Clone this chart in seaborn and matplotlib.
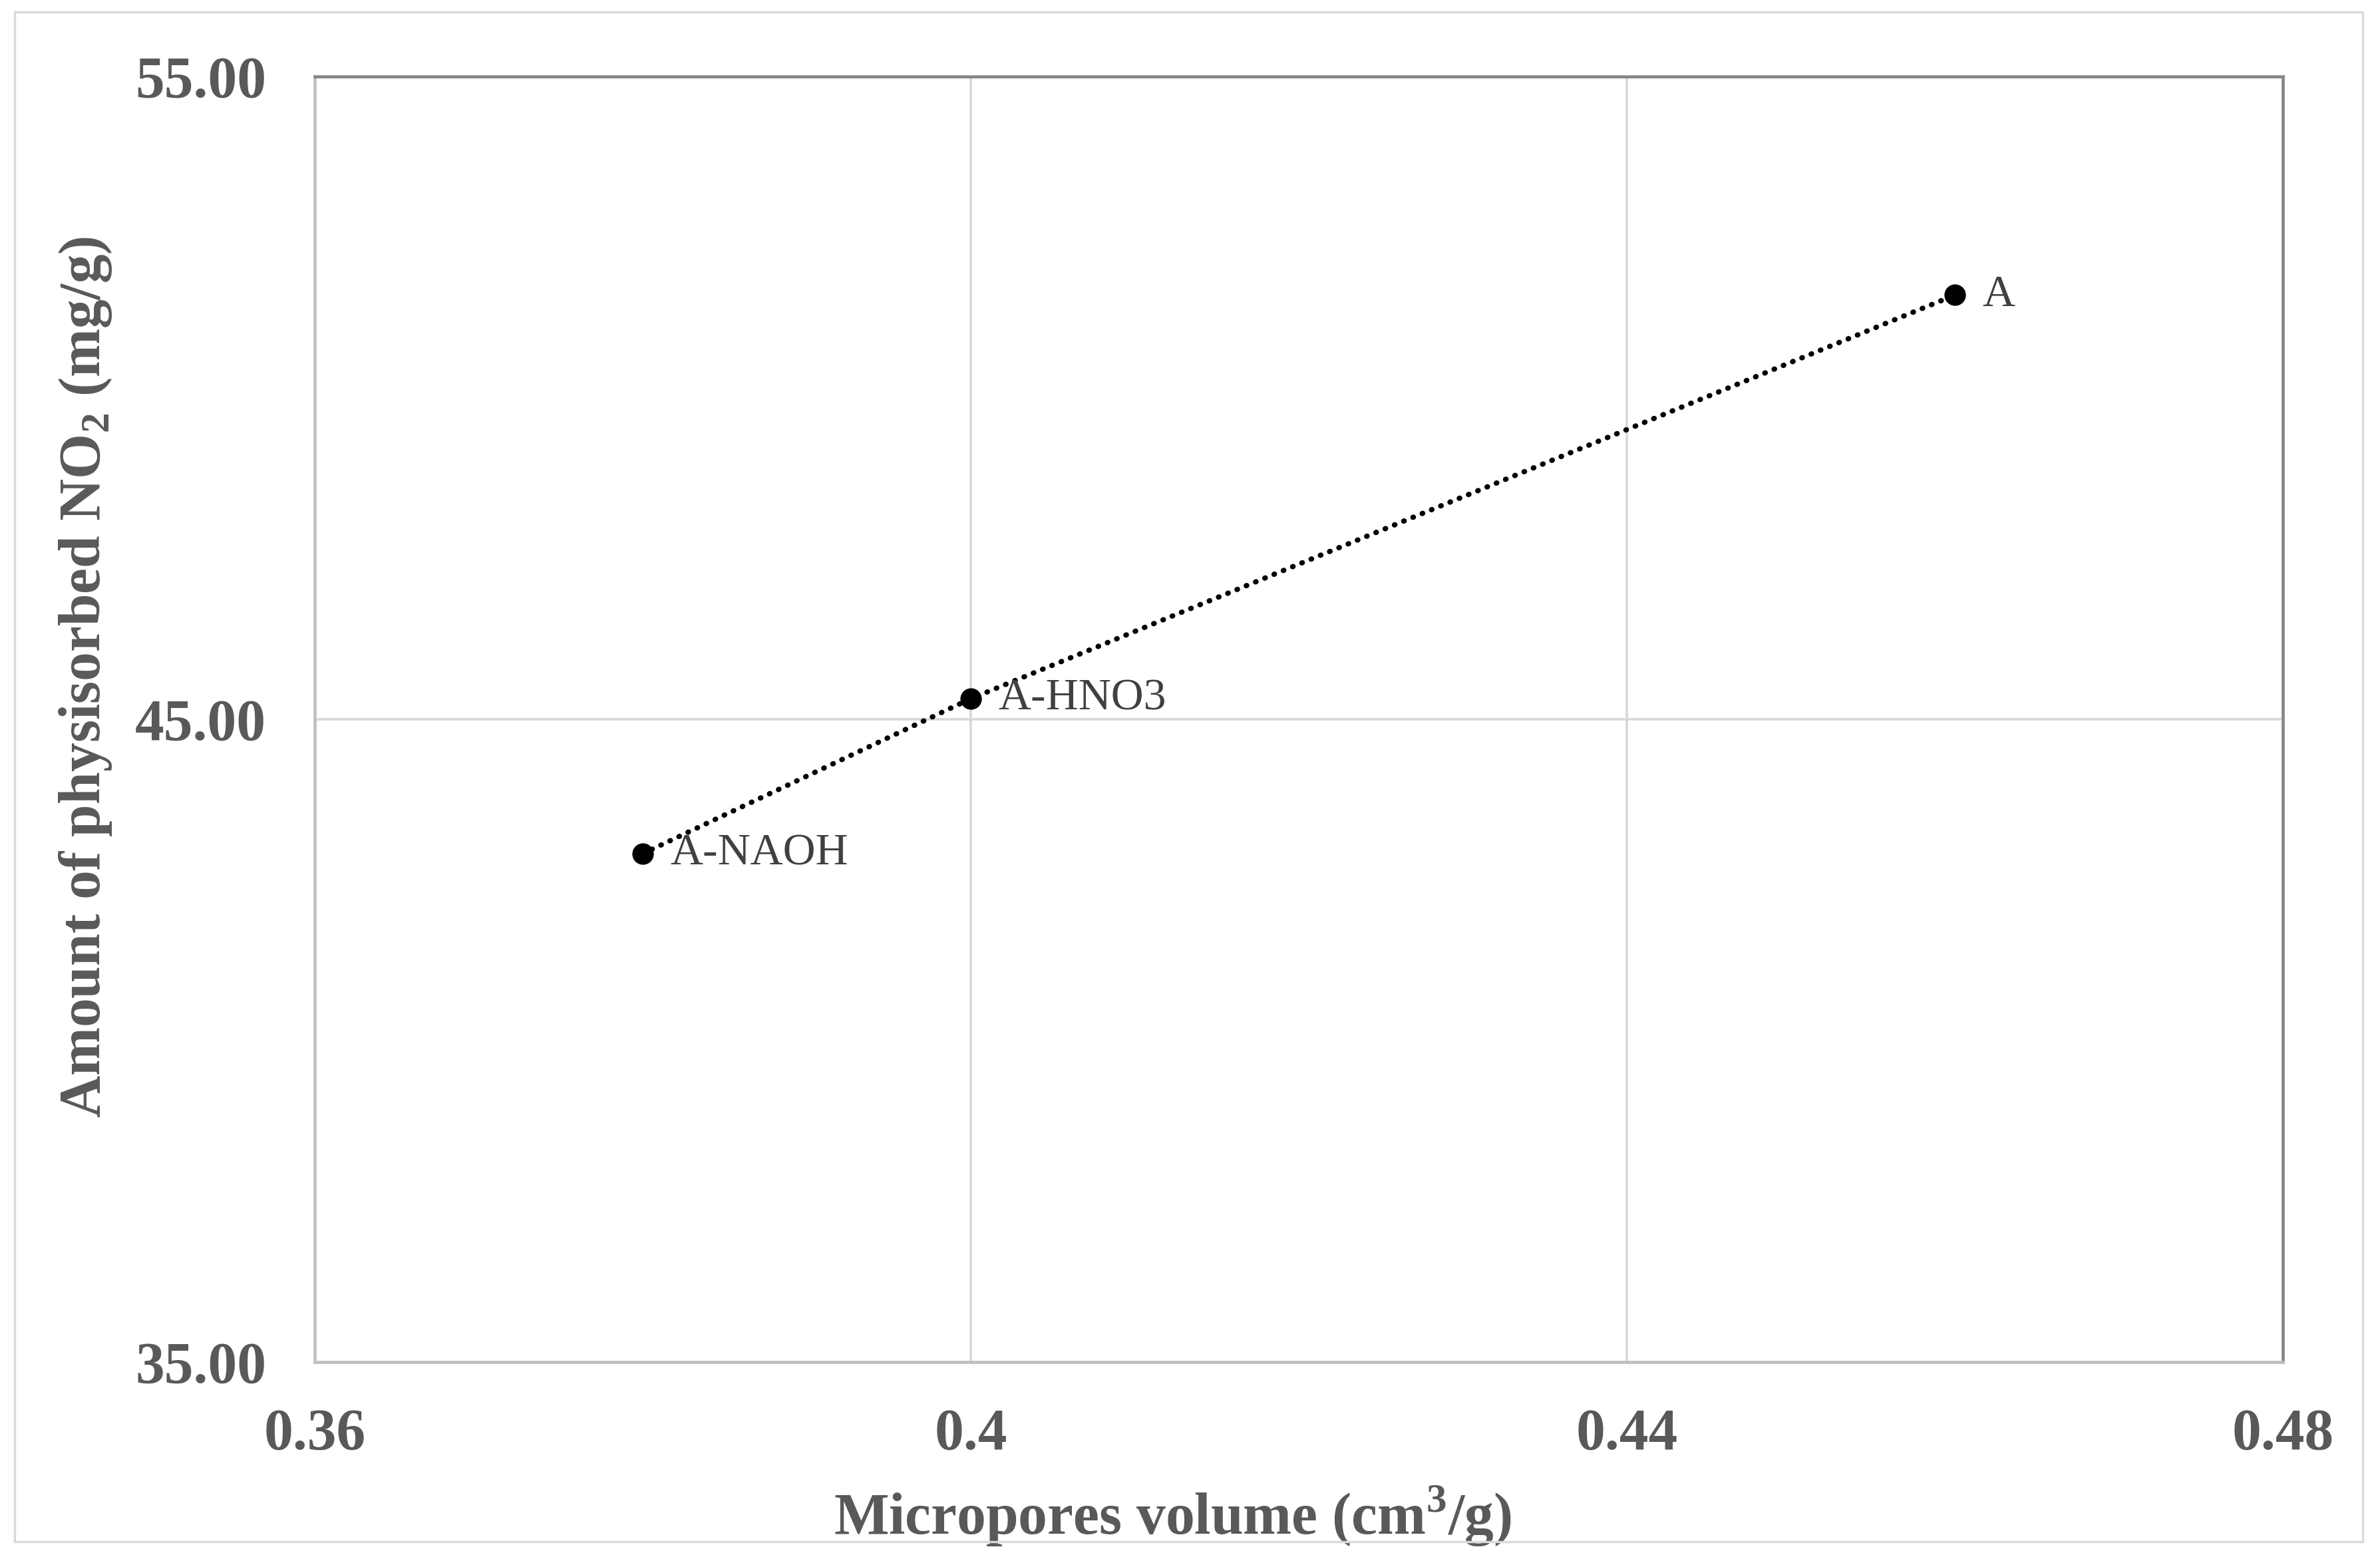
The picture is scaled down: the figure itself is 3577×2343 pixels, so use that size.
import numpy as np
import pandas as pd
import seaborn as sns
import matplotlib.pyplot as plt
from matplotlib.patches import Rectangle
from matplotlib.ticker import FormatStrFormatter, FixedLocator

# datos
muestras = ["A-NAOH", "A-HNO3", "A"]
vol_microporos = [0.38, 0.40, 0.46]
no2_adsorbido = [42.91, 45.32, 51.60]

x_ticks = [0.36, 0.40, 0.44, 0.48]
x_tick_labels = ["0.36", "0.4", "0.44", "0.48"]
y_ticks = [35, 45, 55]

df = pd.DataFrame({"Muestra": muestras, "Vol": vol_microporos, "NO2": no2_adsorbido})

sns.set_theme(style="white")
plt.rcParams["font.family"] = ["Liberation Serif", "DejaVu Serif"]
plt.rcParams["mathtext.fontset"] = "custom"
plt.rcParams["mathtext.rm"] = "Liberation Serif"
plt.rcParams["mathtext.bf"] = "Liberation Serif:bold"

gris_txt = "#595959"

fig = plt.figure(figsize=(3578 / 300, 2343 / 300), dpi=300)
ax = fig.add_axes([473 / 3578, 1 - 2047 / 2343, (3431 - 473) / 3578, (2047 - 115) / 2343])

# linea punteada entre los puntos
sns.lineplot(data=df, x="Vol", y="NO2", estimator=None, sort=False, ax=ax,
             color="black", lw=1.9, linestyle=(0, (0.1, 1.8)),
             dash_capstyle="round", zorder=2)
sns.scatterplot(data=df, x="Vol", y="NO2", ax=ax, color="black", s=60,
                edgecolor="black", linewidth=0, zorder=3)

for m, xv, yv in zip(muestras, vol_microporos, no2_adsorbido):
    ax.annotate(m, (xv, yv), xytext=(10, 0), textcoords="offset points",
                va="center", ha="left", fontsize=16.3, color="#404040")

ax.set_xlim(0.36, 0.48)
ax.set_ylim(35, 55)
ax.xaxis.set_major_locator(FixedLocator(x_ticks))
ax.set_xticklabels(x_tick_labels)
ax.set_yticks(y_ticks)
ax.yaxis.set_major_formatter(FormatStrFormatter("%.2f"))

ax.grid(True, color="#D9D9D9", lw=0.9)
ax.set_axisbelow(True)
ax.tick_params(length=0, labelsize=21, labelcolor=gris_txt)
ax.tick_params(axis="x", pad=16.5)
ax.tick_params(axis="y", pad=17.5)
for lbl in ax.get_xticklabels() + ax.get_yticklabels():
    lbl.set_fontweight("bold")

ax.spines["left"].set_color("#BFBFBF")
ax.spines["bottom"].set_color("#BFBFBF")
ax.spines["top"].set_color("#868686")
ax.spines["right"].set_color("#868686")
for s in ax.spines.values():
    s.set_linewidth(1.1)

ax.set_xlabel(r"Micropores volume (cm$^\mathbf{3}$/g)", fontsize=21,
              fontweight="bold", color=gris_txt)
ax.set_ylabel(r"Amount of physisorbed NO$_\mathbf{2}$ (mg/g)", fontsize=21,
              fontweight="bold", color=gris_txt)
# en el original los titulos no estan centrados en el eje
ax.xaxis.set_label_coords(0.436, -0.094)
ax.yaxis.set_label_coords(-0.102, 0.533)

# marco exterior del grafico
fig.patches.append(Rectangle((22 / 3578, 26 / 2343), (3551 - 22) / 3578, (2325 - 26) / 2343,
                             transform=fig.transFigure, fill=False,
                             edgecolor="#D9D9D9", lw=0.8))

fig.savefig("out.png", dpi=300)
